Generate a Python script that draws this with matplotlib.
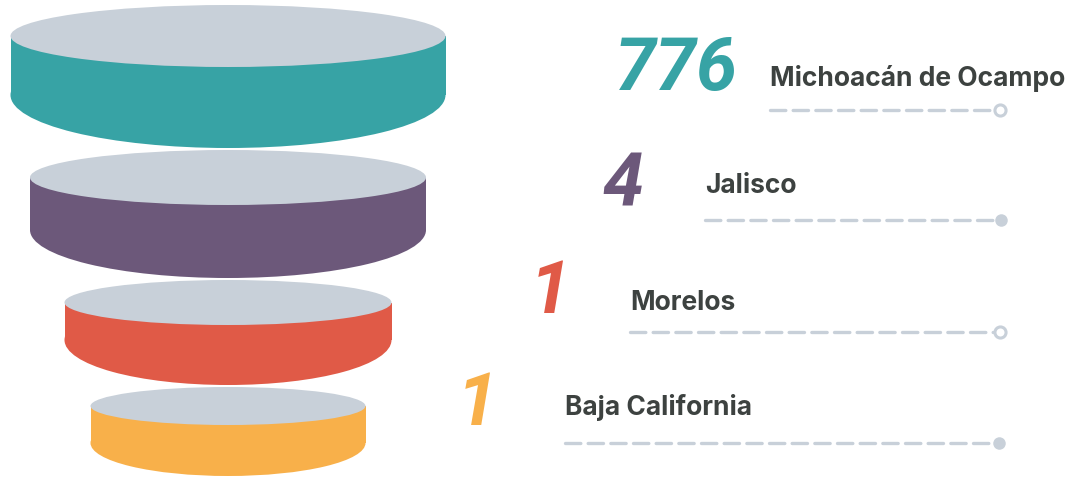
import matplotlib
matplotlib.use("Agg")
import matplotlib.pyplot as plt
from matplotlib.patches import Ellipse, Rectangle
from matplotlib.lines import Line2D

# ---- data ----
states = ["Michoacán de Ocampo", "Jalisco", "Morelos", "Baja California"]
values = [776, 4, 1, 1]

# ---- style ----
side_colors = ["#37a3a5", "#6c587a", "#e05a47", "#f8b04a"]
top_color = "#c8d0d9"
label_color = "#3d4240"
dash_color = "#c8d0d9"
marker_filled = [False, True, False, True]

# ---- layout (pixel coordinates, y downward) ----
W, H = 1068, 478
cx = 228
half_w = [217.5, 198, 163.5, 137.5]
top_cy = [36, 177.5, 302.5, 406]
top_b = [31, 27.5, 22.5, 19]
bot_y = [95, 230, 340, 443]
bot_b = [53, 48, 45, 33]

num_right = [738, 643, 571, 498]
num_base = [90, 206, 313, 425]
lab_x = [770, 705, 630, 565]
lab_base = [86, 193, 310, 415]
line_y = [110, 220, 332, 443]
line_end = [1000, 1001, 1000, 999]

fig = plt.figure(figsize=(W / 100, H / 100), dpi=100)
ax = fig.add_axes([0, 0, 1, 1])
ax.set_xlim(0, W)
ax.set_ylim(H, 0)
ax.axis("off")

for i in range(len(values)):
    a = half_w[i]
    ax.add_patch(Ellipse((cx, bot_y[i]), 2 * a, 2 * bot_b[i],
                         facecolor=side_colors[i], edgecolor="none", zorder=2 + 3 * i))
    ax.add_patch(Rectangle((cx - a, top_cy[i]), 2 * a, bot_y[i] - top_cy[i],
                           facecolor=side_colors[i], edgecolor="none", zorder=3 + 3 * i))
    ax.add_patch(Ellipse((cx, top_cy[i]), 2 * a, 2 * top_b[i],
                         facecolor=top_color, edgecolor="none", zorder=4 + 3 * i))

    ax.text(num_right[i], num_base[i], f"{values[i]}", ha="right", va="baseline",
            fontsize=53, fontweight="bold", fontstyle="italic",
            family=["Roboto", "DejaVu Sans"], color=side_colors[i])
    ax.text(lab_x[i], lab_base[i], states[i], ha="left", va="baseline",
            fontsize=19, fontweight="bold",
            family=["Inter", "Roboto", "DejaVu Sans"], color=label_color)
    ax.add_line(Line2D([lab_x[i], line_end[i] - 7], [line_y[i], line_y[i]],
                       color=dash_color, linewidth=2.4, dashes=(4.6, 2.2),
                       dash_capstyle="round", solid_capstyle="round"))
    if marker_filled[i]:
        ax.plot([line_end[i]], [line_y[i]], marker="o", markersize=9,
                color=dash_color, markeredgewidth=0)
    else:
        ax.plot([line_end[i]], [line_y[i]], marker="o", markersize=8,
                markerfacecolor="white", markeredgecolor=dash_color,
                markeredgewidth=2.2)

fig.savefig("out.png", dpi=100, facecolor="white")
